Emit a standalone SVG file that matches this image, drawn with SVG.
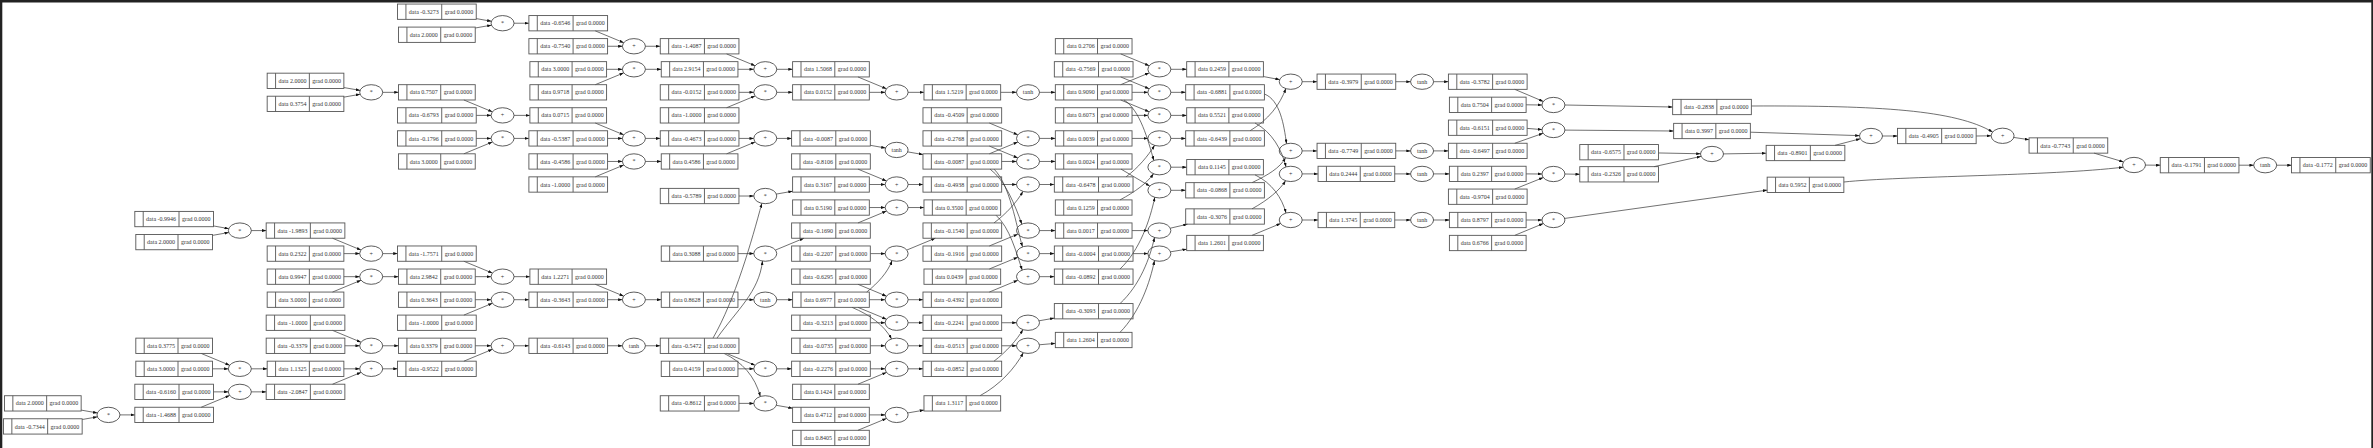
<svg xmlns="http://www.w3.org/2000/svg" xmlns:xlink="http://www.w3.org/1999/xlink" width="2373" height="448" viewBox="0 0 2373 448">
<style>
text{font-family:"Liberation Serif","Times New Roman",serif;font-size:6px;fill:#333;text-anchor:middle}
#edges path{fill:none;stroke:#333;stroke-width:0.7;marker-end:url(#ah)}
</style>
<defs>
<marker id="ah" viewBox="0 0 10 7" refX="10" refY="3.5" markerWidth="4.3" markerHeight="3" markerUnits="userSpaceOnUse" orient="auto"><path d="M0,0L10,3.5L0,7z" fill="#111"/></marker>
<g id="rp"><rect x="-38.35" y="-7.65" width="76.7" height="15.3" fill="none" stroke="#555" stroke-width="0.9"/><path d="M-29.95,-7.65V7.65M3.85,-7.65V7.65" stroke="#555" stroke-width="0.9"/></g>
<g id="rn"><rect x="-39.35" y="-7.65" width="78.7" height="15.3" fill="none" stroke="#555" stroke-width="0.9"/><path d="M-30.95,-7.65V7.65M4.85,-7.65V7.65" stroke="#555" stroke-width="0.9"/></g>
<ellipse id="el" rx="11.5" ry="7.65" fill="none" stroke="#333" stroke-width="0.8"/>
</defs>
<rect x="0" y="0" width="2373" height="448" fill="#fff"/>
<rect x="0" y="0" width="2373" height="2.5" fill="#222"/>
<rect x="0" y="0" width="2.3" height="448" fill="#222"/>
<rect x="2371.3" y="0" width="1.7" height="448" fill="#222"/>
<g id="edges">
<path d="M81.15,410.1L97.36,412.95"/><path d="M82.15,419.5L97.36,416.85"/><path d="M119.98,414.9L134.81,414.9"/>
<path d="M213.51,225.96L228.72,228.63"/><path d="M212.51,235.37L228.72,232.53"/><path d="M251.34,230.58L266.17,230.58"/>
<path d="M201.16,353.43L229.67,365.25"/><path d="M212.51,368.82L228.34,368.82"/><path d="M251.34,368.82L267.17,368.82"/>
<path d="M213.51,391.86L228.34,391.86"/><path d="M201.16,407.25L229.67,395.43"/><path d="M251.34,391.86L266.17,391.86"/>
<path d="M343.87,87.55L360.08,90.39"/><path d="M343.87,97.13L360.08,94.29"/><path d="M382.7,92.34L398.53,92.34"/>
<path d="M332.52,238.23L361.03,250.05"/><path d="M343.87,253.62L359.7,253.62"/><path d="M382.7,253.62L397.53,253.62"/>
<path d="M343.87,276.66L359.7,276.66"/><path d="M332.52,292.05L361.03,280.23"/><path d="M382.7,276.66L398.53,276.66"/>
<path d="M332.52,330.39L361.03,342.21"/><path d="M344.87,345.78L359.7,345.78"/><path d="M382.7,345.78L398.53,345.78"/>
<path d="M343.87,368.82L359.7,368.82"/><path d="M332.52,384.21L361.03,372.39"/><path d="M382.7,368.82L397.53,368.82"/>
<path d="M476.23,18.6L491.44,21.27"/><path d="M475.23,28.01L491.44,25.17"/><path d="M514.06,23.22L528.89,23.22"/>
<path d="M463.88,99.99L492.39,111.81"/><path d="M476.23,115.38L491.06,115.38"/><path d="M514.06,115.38L529.89,115.38"/>
<path d="M476.23,138.42L491.06,138.42"/><path d="M463.88,153.81L492.39,141.99"/><path d="M514.06,138.42L528.89,138.42"/>
<path d="M463.88,261.27L492.39,273.09"/><path d="M475.23,276.66L491.06,276.66"/><path d="M514.06,276.66L529.89,276.66"/>
<path d="M475.23,299.7L491.06,299.7"/><path d="M463.88,315.09L492.39,303.27"/><path d="M514.06,299.7L528.89,299.7"/>
<path d="M475.23,345.78L491.06,345.78"/><path d="M463.88,361.17L492.39,349.35"/><path d="M514.06,345.78L528.89,345.78"/>
<path d="M595.24,30.87L623.75,42.69"/><path d="M607.59,46.26L622.42,46.26"/><path d="M645.42,46.26L660.25,46.26"/>
<path d="M606.59,69.3L622.42,69.3"/><path d="M595.24,84.69L623.75,72.87"/><path d="M645.42,69.3L661.25,69.3"/>
<path d="M595.24,123.03L623.75,134.85"/><path d="M607.59,138.42L622.42,138.42"/><path d="M645.42,138.42L660.25,138.42"/>
<path d="M607.59,161.46L622.42,161.46"/><path d="M595.24,176.85L623.75,165.03"/><path d="M645.42,161.46L661.25,161.46"/>
<path d="M595.24,284.31L623.75,296.13"/><path d="M607.59,299.7L622.42,299.7"/><path d="M645.42,299.7L661.25,299.7"/>
<path d="M607.59,345.78L622.42,345.78"/><path d="M645.42,345.78L660.25,345.78"/>
<path d="M726.6,53.91L755.11,65.73"/><path d="M737.95,69.3L753.78,69.3"/><path d="M776.78,69.3L792.61,69.3"/>
<path d="M738.95,92.34L753.78,92.34"/><path d="M726.6,107.73L755.11,95.91"/><path d="M776.78,92.34L792.61,92.34"/>
<path d="M738.95,138.42L753.78,138.42"/><path d="M726.6,153.81L755.11,141.99"/><path d="M776.78,138.42L791.61,138.42"/>
<path d="M738.95,196.02L753.78,196.02"/><path d="M713,338.1C735,300 752,240 761.8,203.4"/><path d="M776.4,194.07L792.61,191.23"/>
<path d="M737.95,253.62L753.78,253.62"/><path d="M717,338.1C737,310 759,292 762.5,261"/><path d="M775.45,250.05L803.96,238.23"/>
<path d="M737.95,299.7L753.78,299.7"/><path d="M776.78,299.7L792.61,299.7"/>
<path d="M737.95,368.82L753.78,368.82"/><path d="M726.6,353.43L755.11,365.25"/><path d="M776.78,368.82L791.61,368.82"/>
<path d="M738.95,403.38L753.78,403.38"/><path d="M724,353.4C742,362 755,376 760.3,396.5"/><path d="M776.4,405.33L792.61,408.17"/>
<path d="M857.96,76.95L886.47,88.77"/><path d="M869.31,92.34L885.14,92.34"/><path d="M908.14,92.34L923.97,92.34"/>
<path d="M870.31,145.32L885.52,147.99"/><path d="M907.76,151.89L922.97,154.56"/>
<path d="M857.96,169.11L886.47,180.93"/><path d="M869.31,184.5L885.14,184.5"/><path d="M908.14,184.5L922.97,184.5"/>
<path d="M869.31,207.54L885.14,207.54"/><path d="M857.96,222.93L886.47,211.11"/><path d="M908.14,207.54L923.97,207.54"/>
<path d="M870.31,253.62L885.14,253.62"/><path d="M866.7,292.05C878,283 888,272 892,260.6"/><path d="M906.81,250.05L935.32,238.23"/>
<path d="M857.96,284.31L886.47,296.13"/><path d="M869.31,299.7L885.14,299.7"/><path d="M908.14,299.7L922.97,299.7"/>
<path d="M870.31,322.74L885.14,322.74"/><path d="M857.96,307.35L886.47,319.17"/><path d="M908.14,322.74L922.97,322.74"/>
<path d="M870.31,345.78L885.14,345.78"/><path d="M852,307.35C870,315 884,325 891.5,338.9"/><path d="M908.14,345.78L922.97,345.78"/>
<path d="M870.31,368.82L885.14,368.82"/><path d="M857.96,384.21L886.47,372.39"/><path d="M908.14,368.82L922.97,368.82"/>
<path d="M869.31,414.9L885.14,414.9"/><path d="M857.96,430.29L886.47,418.47"/><path d="M907.76,412.95L923.97,410.11"/>
<path d="M1000.67,92.34L1016.5,92.34"/><path d="M1039.5,92.34L1055.33,92.34"/>
<path d="M989.32,123.03L1017.83,134.85"/><path d="M989.32,153.81L1017.83,141.99"/><path d="M1039.5,138.42L1055.33,138.42"/>
<path d="M989.32,146.07L1017.83,157.89"/><path d="M1001.67,161.46L1016.5,161.46"/><path d="M1039.5,161.46L1055.33,161.46"/>
<path d="M1001.67,184.5L1016.5,184.5"/><path d="M994,222.9C1006,214 1017,202 1022.9,191.4"/><path d="M1039.5,184.5L1054.33,184.5"/>
<path d="M989.32,245.97L1017.83,234.15"/><path d="M990,169.1C1005,180 1015,205 1021.8,224.1"/><path d="M1039.5,230.58L1055.33,230.58"/>
<path d="M989.32,269.01L1017.83,257.19"/><path d="M994,169.1C1010,185 1016,225 1022.5,246.8"/><path d="M1039.5,253.62L1054.33,253.62"/>
<path d="M989.32,292.05L1017.83,280.23"/><path d="M996,215.2C1010,228 1016,252 1022.2,270"/><path d="M1039.5,276.66L1054.33,276.66"/>
<path d="M1001.67,322.74L1016.5,322.74"/><path d="M994,361.2C1006,352 1017,340 1022.9,329.6"/><path d="M1039.12,320.79L1054.33,318.12"/>
<path d="M1001.67,345.78L1016.5,345.78"/><path d="M980,395.7C1000,385 1015,368 1023.3,352.7"/><path d="M1039.4,344.78L1055.33,343.4"/>
<path d="M1120.68,53.91L1149.19,65.73"/><path d="M1120.68,84.69L1149.19,72.87"/><path d="M1170.86,69.3L1186.69,69.3"/>
<path d="M1120.68,76.95L1149.19,88.77"/><path d="M1132.03,92.34L1147.86,92.34"/><path d="M1170.86,92.34L1185.69,92.34"/>
<path d="M1132.03,115.38L1147.86,115.38"/><path d="M1120.68,99.99L1149.19,111.81"/><path d="M1170.86,115.38L1186.69,115.38"/>
<path d="M1132.03,138.42L1147.86,138.42"/><path d="M1126,176.85C1138,168 1148,156 1154.6,145.3"/><path d="M1170.86,138.42L1185.69,138.42"/>
<path d="M1120,199.9C1135,192 1147,183 1153.5,173.8"/><path d="M1124,100C1140,110 1148,140 1153.8,160.4"/><path d="M1170.86,167.2L1186.69,167.2"/>
<path d="M1121,169.1L1149.76,186.09"/><path d="M1120,269C1140,250 1150,220 1154.8,197.2"/><path d="M1170.86,190.3L1185.69,190.3"/>
<path d="M1132.03,230.58L1147.86,230.58"/><path d="M1120,303.6C1140,285 1150,258 1154.5,237.5"/><path d="M1170.3,228.2L1187.5,224.2"/>
<path d="M1133.03,253.62L1147.86,253.62"/><path d="M1120,332.35C1140,312 1150,282 1154.5,260.6"/><path d="M1170.5,251.8L1186.69,249.2"/>
<path d="M1263.39,76.54L1279.66,79.61"/><path d="M1250,130.77C1268,120 1280,105 1285.8,88.5"/><path d="M1302.22,81.7L1317.05,81.7"/>
<path d="M1264.39,94C1280,100 1284,125 1286.5,143.7"/><path d="M1252,182.65C1268,175 1280,168 1285.5,157.7"/><path d="M1302.22,150.9L1317.05,150.9"/>
<path d="M1255,123.03C1272,132 1282,150 1286,166.9"/><path d="M1252,208.85C1268,200 1280,190 1285.5,180.7"/><path d="M1302.22,173.9L1318.05,173.9"/>
<path d="M1255,174.85C1272,183 1282,198 1286,213"/><path d="M1252.04,235.35L1280.55,223.56"/><path d="M1302.22,220L1318.05,220"/>
<path d="M1395.75,81.7L1410.58,81.7"/><path d="M1433.58,81.7L1448.41,81.7"/>
<path d="M1395.75,150.9L1410.58,150.9"/><path d="M1433.58,150.9L1448.41,150.9"/>
<path d="M1394.75,173.9L1410.58,173.9"/><path d="M1433.58,173.9L1449.41,173.9"/>
<path d="M1394.75,220L1410.58,220"/><path d="M1433.58,220L1449.41,220"/>
<path d="M1514.76,89.35L1543.27,101.43"/><path d="M1526.11,104.8L1541.94,105"/><path d="M1564.94,105L1672.65,107"/>
<path d="M1527.11,128.4L1541.96,129.6"/><path d="M1514.76,143.25L1543.07,133.3"/><path d="M1564.94,130.1L1673.65,131"/>
<path d="M1526.11,173.9L1541.94,174"/><path d="M1514.76,189.05L1543.27,177.57"/><path d="M1564.94,174L1579.77,174.3"/>
<path d="M1526.11,220L1541.94,220"/><path d="M1514.76,235.35L1543.27,223.57"/><path d="M1564.69,218.43L1767.15,190.15"/>
<path d="M1658.47,152.96L1700.5,153.78"/><path d="M1654.1,166.65L1701.07,156.39"/><path d="M1723.5,153.9L1766.15,153.2"/>
<path d="M1750.35,132.2L1859.51,135.64"/><path d="M1835,145.35L1860.28,138.78"/><path d="M1882.5,136L1897.45,136"/>
<path d="M1976.15,136L1991.1,135.8"/><path d="M1751.35,106C1880,105.5 1955,110 1992.6,132"/><path d="M2013.83,137.45L2029.05,139.7"/>
<path d="M2094.1,153.15L2123.5,161.88"/><path d="M1843.85,182C1900,176 2050,176 2123,167.2"/><path d="M2145.5,165.1L2160.25,165.2"/>
<path d="M2238.95,165.2L2253.7,165.2"/><path d="M2276.7,165.2L2291.55,165.2"/>
</g>
<g id="ops">
<g id="o1" transform="translate(108.48 414.9)"><use href="#el"/><text y="2">*</text></g>
<g id="o2" transform="translate(239.84 230.58)"><use href="#el"/><text y="2">*</text></g>
<g id="o3" transform="translate(239.84 368.82)"><use href="#el"/><text y="2">*</text></g>
<g id="o4" transform="translate(239.84 391.86)"><use href="#el"/><text y="2">+</text></g>
<g id="o5" transform="translate(371.2 92.34)"><use href="#el"/><text y="2">*</text></g>
<g id="o6" transform="translate(371.2 253.62)"><use href="#el"/><text y="2">+</text></g>
<g id="o7" transform="translate(371.2 276.66)"><use href="#el"/><text y="2">*</text></g>
<g id="o8" transform="translate(371.2 345.78)"><use href="#el"/><text y="2">*</text></g>
<g id="o9" transform="translate(371.2 368.82)"><use href="#el"/><text y="2">+</text></g>
<g id="o10" transform="translate(502.56 23.22)"><use href="#el"/><text y="2">*</text></g>
<g id="o11" transform="translate(502.56 115.38)"><use href="#el"/><text y="2">+</text></g>
<g id="o12" transform="translate(502.56 138.42)"><use href="#el"/><text y="2">*</text></g>
<g id="o13" transform="translate(502.56 276.66)"><use href="#el"/><text y="2">+</text></g>
<g id="o14" transform="translate(502.56 299.7)"><use href="#el"/><text y="2">*</text></g>
<g id="o15" transform="translate(502.56 345.78)"><use href="#el"/><text y="2">+</text></g>
<g id="o16" transform="translate(633.92 46.26)"><use href="#el"/><text y="2">+</text></g>
<g id="o17" transform="translate(633.92 69.3)"><use href="#el"/><text y="2">*</text></g>
<g id="o18" transform="translate(633.92 138.42)"><use href="#el"/><text y="2">+</text></g>
<g id="o19" transform="translate(633.92 161.46)"><use href="#el"/><text y="2">*</text></g>
<g id="o20" transform="translate(633.92 299.7)"><use href="#el"/><text y="2">+</text></g>
<g id="o21" transform="translate(633.92 345.78)"><use href="#el"/><text y="2">tanh</text></g>
<g id="o22" transform="translate(765.28 69.3)"><use href="#el"/><text y="2">+</text></g>
<g id="o23" transform="translate(765.28 92.34)"><use href="#el"/><text y="2">*</text></g>
<g id="o24" transform="translate(765.28 138.42)"><use href="#el"/><text y="2">+</text></g>
<g id="o25" transform="translate(765.28 196.02)"><use href="#el"/><text y="2">*</text></g>
<g id="o26" transform="translate(765.28 253.62)"><use href="#el"/><text y="2">*</text></g>
<g id="o27" transform="translate(765.28 299.7)"><use href="#el"/><text y="2">tanh</text></g>
<g id="o28" transform="translate(765.28 368.82)"><use href="#el"/><text y="2">*</text></g>
<g id="o29" transform="translate(765.28 403.38)"><use href="#el"/><text y="2">*</text></g>
<g id="o30" transform="translate(896.64 92.34)"><use href="#el"/><text y="2">+</text></g>
<g id="o31" transform="translate(896.64 149.94)"><use href="#el"/><text y="2">tanh</text></g>
<g id="o32" transform="translate(896.64 184.5)"><use href="#el"/><text y="2">+</text></g>
<g id="o33" transform="translate(896.64 207.54)"><use href="#el"/><text y="2">+</text></g>
<g id="o34" transform="translate(896.64 253.62)"><use href="#el"/><text y="2">*</text></g>
<g id="o35" transform="translate(896.64 299.7)"><use href="#el"/><text y="2">*</text></g>
<g id="o36" transform="translate(896.64 322.74)"><use href="#el"/><text y="2">*</text></g>
<g id="o37" transform="translate(896.64 345.78)"><use href="#el"/><text y="2">*</text></g>
<g id="o38" transform="translate(896.64 368.82)"><use href="#el"/><text y="2">+</text></g>
<g id="o39" transform="translate(896.64 414.9)"><use href="#el"/><text y="2">+</text></g>
<g id="o40" transform="translate(1028 92.34)"><use href="#el"/><text y="2">tanh</text></g>
<g id="o41" transform="translate(1028 138.42)"><use href="#el"/><text y="2">*</text></g>
<g id="o42" transform="translate(1028 161.46)"><use href="#el"/><text y="2">*</text></g>
<g id="o43" transform="translate(1028 184.5)"><use href="#el"/><text y="2">+</text></g>
<g id="o44" transform="translate(1028 230.58)"><use href="#el"/><text y="2">*</text></g>
<g id="o45" transform="translate(1028 253.62)"><use href="#el"/><text y="2">*</text></g>
<g id="o46" transform="translate(1028 276.66)"><use href="#el"/><text y="2">+</text></g>
<g id="o47" transform="translate(1028 322.74)"><use href="#el"/><text y="2">+</text></g>
<g id="o48" transform="translate(1028 345.78)"><use href="#el"/><text y="2">+</text></g>
<g id="o49" transform="translate(1159.36 69.3)"><use href="#el"/><text y="2">*</text></g>
<g id="o50" transform="translate(1159.36 92.34)"><use href="#el"/><text y="2">*</text></g>
<g id="o51" transform="translate(1159.36 115.38)"><use href="#el"/><text y="2">*</text></g>
<g id="o52" transform="translate(1159.36 138.42)"><use href="#el"/><text y="2">+</text></g>
<g id="o53" transform="translate(1159.36 167.2)"><use href="#el"/><text y="2">*</text></g>
<g id="o54" transform="translate(1159.36 190.3)"><use href="#el"/><text y="2">+</text></g>
<g id="o55" transform="translate(1159.36 230.58)"><use href="#el"/><text y="2">+</text></g>
<g id="o56" transform="translate(1159.36 253.62)"><use href="#el"/><text y="2">+</text></g>
<g id="o57" transform="translate(1290.72 81.7)"><use href="#el"/><text y="2">+</text></g>
<g id="o58" transform="translate(1290.72 150.9)"><use href="#el"/><text y="2">+</text></g>
<g id="o59" transform="translate(1290.72 173.9)"><use href="#el"/><text y="2">+</text></g>
<g id="o60" transform="translate(1290.72 220)"><use href="#el"/><text y="2">+</text></g>
<g id="o61" transform="translate(1422.08 81.7)"><use href="#el"/><text y="2">tanh</text></g>
<g id="o62" transform="translate(1422.08 150.9)"><use href="#el"/><text y="2">tanh</text></g>
<g id="o63" transform="translate(1422.08 173.9)"><use href="#el"/><text y="2">tanh</text></g>
<g id="o64" transform="translate(1422.08 220)"><use href="#el"/><text y="2">tanh</text></g>
<g id="o65" transform="translate(1553.44 105)"><use href="#el"/><text y="2">*</text></g>
<g id="o66" transform="translate(1553.44 130)"><use href="#el"/><text y="2">*</text></g>
<g id="o67" transform="translate(1553.44 174)"><use href="#el"/><text y="2">*</text></g>
<g id="o68" transform="translate(1553.44 220)"><use href="#el"/><text y="2">*</text></g>
<g id="o69" transform="translate(1712 154)"><use href="#el"/><text y="2">+</text></g>
<g id="o70" transform="translate(1871 136)"><use href="#el"/><text y="2">+</text></g>
<g id="o71" transform="translate(2002.6 135.8)"><use href="#el"/><text y="2">+</text></g>
<g id="o72" transform="translate(2134 165)"><use href="#el"/><text y="2">+</text></g>
<g id="o73" transform="translate(2265.2 165.2)"><use href="#el"/><text y="2">tanh</text></g>
</g>
<g id="values">
<g id="v1" transform="translate(42.8 403.38)"><use href="#rp"/><text x="-13.05" y="2.1">data 2.0000</text><text x="21.1" y="2.1">grad 0.0000</text></g>
<g id="v2" transform="translate(42.8 426.42)"><use href="#rn"/><text x="-13.05" y="2.1">data -0.7344</text><text x="22.1" y="2.1">grad 0.0000</text></g>
<g id="v3" transform="translate(174.16 219.06)"><use href="#rn"/><text x="-13.05" y="2.1">data -0.9946</text><text x="22.1" y="2.1">grad 0.0000</text></g>
<g id="v4" transform="translate(174.16 242.1)"><use href="#rp"/><text x="-13.05" y="2.1">data 2.0000</text><text x="21.1" y="2.1">grad 0.0000</text></g>
<g id="v5" transform="translate(174.16 345.78)"><use href="#rp"/><text x="-13.05" y="2.1">data 0.3775</text><text x="21.1" y="2.1">grad 0.0000</text></g>
<g id="v6" transform="translate(174.16 368.82)"><use href="#rp"/><text x="-13.05" y="2.1">data 3.0000</text><text x="21.1" y="2.1">grad 0.0000</text></g>
<g id="v7" transform="translate(174.16 391.86)"><use href="#rn"/><text x="-13.05" y="2.1">data -0.6160</text><text x="22.1" y="2.1">grad 0.0000</text></g>
<g id="v8" transform="translate(174.16 414.9)"><use href="#rn"/><text x="-13.05" y="2.1">data -1.4688</text><text x="22.1" y="2.1">grad 0.0000</text></g>
<g id="v9" transform="translate(305.52 80.82)"><use href="#rp"/><text x="-13.05" y="2.1">data 2.0000</text><text x="21.1" y="2.1">grad 0.0000</text></g>
<g id="v10" transform="translate(305.52 103.86)"><use href="#rp"/><text x="-13.05" y="2.1">data 0.3754</text><text x="21.1" y="2.1">grad 0.0000</text></g>
<g id="v11" transform="translate(305.52 230.58)"><use href="#rn"/><text x="-13.05" y="2.1">data -1.9893</text><text x="22.1" y="2.1">grad 0.0000</text></g>
<g id="v12" transform="translate(305.52 253.62)"><use href="#rp"/><text x="-13.05" y="2.1">data 0.2322</text><text x="21.1" y="2.1">grad 0.0000</text></g>
<g id="v13" transform="translate(305.52 276.66)"><use href="#rp"/><text x="-13.05" y="2.1">data 0.9947</text><text x="21.1" y="2.1">grad 0.0000</text></g>
<g id="v14" transform="translate(305.52 299.7)"><use href="#rp"/><text x="-13.05" y="2.1">data 3.0000</text><text x="21.1" y="2.1">grad 0.0000</text></g>
<g id="v15" transform="translate(305.52 322.74)"><use href="#rn"/><text x="-13.05" y="2.1">data -1.0000</text><text x="22.1" y="2.1">grad 0.0000</text></g>
<g id="v16" transform="translate(305.52 345.78)"><use href="#rn"/><text x="-13.05" y="2.1">data -0.3379</text><text x="22.1" y="2.1">grad 0.0000</text></g>
<g id="v17" transform="translate(305.52 368.82)"><use href="#rp"/><text x="-13.05" y="2.1">data 1.1325</text><text x="21.1" y="2.1">grad 0.0000</text></g>
<g id="v18" transform="translate(305.52 391.86)"><use href="#rn"/><text x="-13.05" y="2.1">data -2.0847</text><text x="22.1" y="2.1">grad 0.0000</text></g>
<g id="v19" transform="translate(436.88 11.7)"><use href="#rn"/><text x="-13.05" y="2.1">data -0.3273</text><text x="22.1" y="2.1">grad 0.0000</text></g>
<g id="v20" transform="translate(436.88 34.74)"><use href="#rp"/><text x="-13.05" y="2.1">data 2.0000</text><text x="21.1" y="2.1">grad 0.0000</text></g>
<g id="v21" transform="translate(436.88 92.34)"><use href="#rp"/><text x="-13.05" y="2.1">data 0.7507</text><text x="21.1" y="2.1">grad 0.0000</text></g>
<g id="v22" transform="translate(436.88 115.38)"><use href="#rn"/><text x="-13.05" y="2.1">data -0.6793</text><text x="22.1" y="2.1">grad 0.0000</text></g>
<g id="v23" transform="translate(436.88 138.42)"><use href="#rn"/><text x="-13.05" y="2.1">data -0.1796</text><text x="22.1" y="2.1">grad 0.0000</text></g>
<g id="v24" transform="translate(436.88 161.46)"><use href="#rp"/><text x="-13.05" y="2.1">data 3.0000</text><text x="21.1" y="2.1">grad 0.0000</text></g>
<g id="v25" transform="translate(436.88 253.62)"><use href="#rn"/><text x="-13.05" y="2.1">data -1.7571</text><text x="22.1" y="2.1">grad 0.0000</text></g>
<g id="v26" transform="translate(436.88 276.66)"><use href="#rp"/><text x="-13.05" y="2.1">data 2.9842</text><text x="21.1" y="2.1">grad 0.0000</text></g>
<g id="v27" transform="translate(436.88 299.7)"><use href="#rp"/><text x="-13.05" y="2.1">data 0.3643</text><text x="21.1" y="2.1">grad 0.0000</text></g>
<g id="v28" transform="translate(436.88 322.74)"><use href="#rn"/><text x="-13.05" y="2.1">data -1.0000</text><text x="22.1" y="2.1">grad 0.0000</text></g>
<g id="v29" transform="translate(436.88 345.78)"><use href="#rp"/><text x="-13.05" y="2.1">data 0.3379</text><text x="21.1" y="2.1">grad 0.0000</text></g>
<g id="v30" transform="translate(436.88 368.82)"><use href="#rn"/><text x="-13.05" y="2.1">data -0.9522</text><text x="22.1" y="2.1">grad 0.0000</text></g>
<g id="v31" transform="translate(568.24 23.22)"><use href="#rn"/><text x="-13.05" y="2.1">data -0.6546</text><text x="22.1" y="2.1">grad 0.0000</text></g>
<g id="v32" transform="translate(568.24 46.26)"><use href="#rn"/><text x="-13.05" y="2.1">data -0.7540</text><text x="22.1" y="2.1">grad 0.0000</text></g>
<g id="v33" transform="translate(568.24 69.3)"><use href="#rp"/><text x="-13.05" y="2.1">data 3.0000</text><text x="21.1" y="2.1">grad 0.0000</text></g>
<g id="v34" transform="translate(568.24 92.34)"><use href="#rp"/><text x="-13.05" y="2.1">data 0.9718</text><text x="21.1" y="2.1">grad 0.0000</text></g>
<g id="v35" transform="translate(568.24 115.38)"><use href="#rp"/><text x="-13.05" y="2.1">data 0.0715</text><text x="21.1" y="2.1">grad 0.0000</text></g>
<g id="v36" transform="translate(568.24 138.42)"><use href="#rn"/><text x="-13.05" y="2.1">data -0.5387</text><text x="22.1" y="2.1">grad 0.0000</text></g>
<g id="v37" transform="translate(568.24 161.46)"><use href="#rn"/><text x="-13.05" y="2.1">data -0.4586</text><text x="22.1" y="2.1">grad 0.0000</text></g>
<g id="v38" transform="translate(568.24 184.5)"><use href="#rn"/><text x="-13.05" y="2.1">data -1.0000</text><text x="22.1" y="2.1">grad 0.0000</text></g>
<g id="v39" transform="translate(568.24 276.66)"><use href="#rp"/><text x="-13.05" y="2.1">data 1.2271</text><text x="21.1" y="2.1">grad 0.0000</text></g>
<g id="v40" transform="translate(568.24 299.7)"><use href="#rn"/><text x="-13.05" y="2.1">data -0.3643</text><text x="22.1" y="2.1">grad 0.0000</text></g>
<g id="v41" transform="translate(568.24 345.78)"><use href="#rn"/><text x="-13.05" y="2.1">data -0.6143</text><text x="22.1" y="2.1">grad 0.0000</text></g>
<g id="v42" transform="translate(699.6 46.26)"><use href="#rn"/><text x="-13.05" y="2.1">data -1.4087</text><text x="22.1" y="2.1">grad 0.0000</text></g>
<g id="v43" transform="translate(699.6 69.3)"><use href="#rp"/><text x="-13.05" y="2.1">data 2.9154</text><text x="21.1" y="2.1">grad 0.0000</text></g>
<g id="v44" transform="translate(699.6 92.34)"><use href="#rn"/><text x="-13.05" y="2.1">data -0.0152</text><text x="22.1" y="2.1">grad 0.0000</text></g>
<g id="v45" transform="translate(699.6 115.38)"><use href="#rn"/><text x="-13.05" y="2.1">data -1.0000</text><text x="22.1" y="2.1">grad 0.0000</text></g>
<g id="v46" transform="translate(699.6 138.42)"><use href="#rn"/><text x="-13.05" y="2.1">data -0.4673</text><text x="22.1" y="2.1">grad 0.0000</text></g>
<g id="v47" transform="translate(699.6 161.46)"><use href="#rp"/><text x="-13.05" y="2.1">data 0.4586</text><text x="21.1" y="2.1">grad 0.0000</text></g>
<g id="v48" transform="translate(699.6 196.02)"><use href="#rn"/><text x="-13.05" y="2.1">data -0.5789</text><text x="22.1" y="2.1">grad 0.0000</text></g>
<g id="v49" transform="translate(699.6 253.62)"><use href="#rp"/><text x="-13.05" y="2.1">data 0.3088</text><text x="21.1" y="2.1">grad 0.0000</text></g>
<g id="v50" transform="translate(699.6 299.7)"><use href="#rp"/><text x="-13.05" y="2.1">data 0.8628</text><text x="21.1" y="2.1">grad 0.0000</text></g>
<g id="v51" transform="translate(699.6 345.78)"><use href="#rn"/><text x="-13.05" y="2.1">data -0.5472</text><text x="22.1" y="2.1">grad 0.0000</text></g>
<g id="v52" transform="translate(699.6 368.82)"><use href="#rp"/><text x="-13.05" y="2.1">data 0.4159</text><text x="21.1" y="2.1">grad 0.0000</text></g>
<g id="v53" transform="translate(699.6 403.38)"><use href="#rn"/><text x="-13.05" y="2.1">data -0.8612</text><text x="22.1" y="2.1">grad 0.0000</text></g>
<g id="v54" transform="translate(830.96 69.3)"><use href="#rp"/><text x="-13.05" y="2.1">data 1.5068</text><text x="21.1" y="2.1">grad 0.0000</text></g>
<g id="v55" transform="translate(830.96 92.34)"><use href="#rp"/><text x="-13.05" y="2.1">data 0.0152</text><text x="21.1" y="2.1">grad 0.0000</text></g>
<g id="v56" transform="translate(830.96 138.42)"><use href="#rn"/><text x="-13.05" y="2.1">data -0.0087</text><text x="22.1" y="2.1">grad 0.0000</text></g>
<g id="v57" transform="translate(830.96 161.46)"><use href="#rn"/><text x="-13.05" y="2.1">data -0.8106</text><text x="22.1" y="2.1">grad 0.0000</text></g>
<g id="v58" transform="translate(830.96 184.5)"><use href="#rp"/><text x="-13.05" y="2.1">data 0.3167</text><text x="21.1" y="2.1">grad 0.0000</text></g>
<g id="v59" transform="translate(830.96 207.54)"><use href="#rp"/><text x="-13.05" y="2.1">data 0.5190</text><text x="21.1" y="2.1">grad 0.0000</text></g>
<g id="v60" transform="translate(830.96 230.58)"><use href="#rn"/><text x="-13.05" y="2.1">data -0.1690</text><text x="22.1" y="2.1">grad 0.0000</text></g>
<g id="v61" transform="translate(830.96 253.62)"><use href="#rn"/><text x="-13.05" y="2.1">data -0.2207</text><text x="22.1" y="2.1">grad 0.0000</text></g>
<g id="v62" transform="translate(830.96 276.66)"><use href="#rn"/><text x="-13.05" y="2.1">data -0.6295</text><text x="22.1" y="2.1">grad 0.0000</text></g>
<g id="v63" transform="translate(830.96 299.7)"><use href="#rp"/><text x="-13.05" y="2.1">data 0.6977</text><text x="21.1" y="2.1">grad 0.0000</text></g>
<g id="v64" transform="translate(830.96 322.74)"><use href="#rn"/><text x="-13.05" y="2.1">data -0.3213</text><text x="22.1" y="2.1">grad 0.0000</text></g>
<g id="v65" transform="translate(830.96 345.78)"><use href="#rn"/><text x="-13.05" y="2.1">data -0.0735</text><text x="22.1" y="2.1">grad 0.0000</text></g>
<g id="v66" transform="translate(830.96 368.82)"><use href="#rn"/><text x="-13.05" y="2.1">data -0.2276</text><text x="22.1" y="2.1">grad 0.0000</text></g>
<g id="v67" transform="translate(830.96 391.86)"><use href="#rp"/><text x="-13.05" y="2.1">data 0.1424</text><text x="21.1" y="2.1">grad 0.0000</text></g>
<g id="v68" transform="translate(830.96 414.9)"><use href="#rp"/><text x="-13.05" y="2.1">data 0.4712</text><text x="21.1" y="2.1">grad 0.0000</text></g>
<g id="v69" transform="translate(830.96 437.94)"><use href="#rp"/><text x="-13.05" y="2.1">data 0.8405</text><text x="21.1" y="2.1">grad 0.0000</text></g>
<g id="v70" transform="translate(962.32 92.34)"><use href="#rp"/><text x="-13.05" y="2.1">data 1.5219</text><text x="21.1" y="2.1">grad 0.0000</text></g>
<g id="v71" transform="translate(962.32 115.38)"><use href="#rn"/><text x="-13.05" y="2.1">data -0.4509</text><text x="22.1" y="2.1">grad 0.0000</text></g>
<g id="v72" transform="translate(962.32 138.42)"><use href="#rn"/><text x="-13.05" y="2.1">data -0.2768</text><text x="22.1" y="2.1">grad 0.0000</text></g>
<g id="v73" transform="translate(962.32 161.46)"><use href="#rn"/><text x="-13.05" y="2.1">data -0.0087</text><text x="22.1" y="2.1">grad 0.0000</text></g>
<g id="v74" transform="translate(962.32 184.5)"><use href="#rn"/><text x="-13.05" y="2.1">data -0.4938</text><text x="22.1" y="2.1">grad 0.0000</text></g>
<g id="v75" transform="translate(962.32 207.54)"><use href="#rp"/><text x="-13.05" y="2.1">data 0.3500</text><text x="21.1" y="2.1">grad 0.0000</text></g>
<g id="v76" transform="translate(962.32 230.58)"><use href="#rn"/><text x="-13.05" y="2.1">data -0.1540</text><text x="22.1" y="2.1">grad 0.0000</text></g>
<g id="v77" transform="translate(962.32 253.62)"><use href="#rn"/><text x="-13.05" y="2.1">data -0.1916</text><text x="22.1" y="2.1">grad 0.0000</text></g>
<g id="v78" transform="translate(962.32 276.66)"><use href="#rp"/><text x="-13.05" y="2.1">data 0.0439</text><text x="21.1" y="2.1">grad 0.0000</text></g>
<g id="v79" transform="translate(962.32 299.7)"><use href="#rn"/><text x="-13.05" y="2.1">data -0.4392</text><text x="22.1" y="2.1">grad 0.0000</text></g>
<g id="v80" transform="translate(962.32 322.74)"><use href="#rn"/><text x="-13.05" y="2.1">data -0.2241</text><text x="22.1" y="2.1">grad 0.0000</text></g>
<g id="v81" transform="translate(962.32 345.78)"><use href="#rn"/><text x="-13.05" y="2.1">data -0.0513</text><text x="22.1" y="2.1">grad 0.0000</text></g>
<g id="v82" transform="translate(962.32 368.82)"><use href="#rn"/><text x="-13.05" y="2.1">data -0.0852</text><text x="22.1" y="2.1">grad 0.0000</text></g>
<g id="v83" transform="translate(962.32 403.38)"><use href="#rp"/><text x="-13.05" y="2.1">data 1.3117</text><text x="21.1" y="2.1">grad 0.0000</text></g>
<g id="v84" transform="translate(1093.68 46.26)"><use href="#rp"/><text x="-13.05" y="2.1">data 0.2706</text><text x="21.1" y="2.1">grad 0.0000</text></g>
<g id="v85" transform="translate(1093.68 69.3)"><use href="#rn"/><text x="-13.05" y="2.1">data -0.7569</text><text x="22.1" y="2.1">grad 0.0000</text></g>
<g id="v86" transform="translate(1093.68 92.34)"><use href="#rp"/><text x="-13.05" y="2.1">data 0.9090</text><text x="21.1" y="2.1">grad 0.0000</text></g>
<g id="v87" transform="translate(1093.68 115.38)"><use href="#rp"/><text x="-13.05" y="2.1">data 0.6073</text><text x="21.1" y="2.1">grad 0.0000</text></g>
<g id="v88" transform="translate(1093.68 138.42)"><use href="#rp"/><text x="-13.05" y="2.1">data 0.0039</text><text x="21.1" y="2.1">grad 0.0000</text></g>
<g id="v89" transform="translate(1093.68 161.46)"><use href="#rp"/><text x="-13.05" y="2.1">data 0.0024</text><text x="21.1" y="2.1">grad 0.0000</text></g>
<g id="v90" transform="translate(1093.68 184.5)"><use href="#rn"/><text x="-13.05" y="2.1">data -0.6478</text><text x="22.1" y="2.1">grad 0.0000</text></g>
<g id="v91" transform="translate(1093.68 207.54)"><use href="#rp"/><text x="-13.05" y="2.1">data 0.1259</text><text x="21.1" y="2.1">grad 0.0000</text></g>
<g id="v92" transform="translate(1093.68 230.58)"><use href="#rp"/><text x="-13.05" y="2.1">data 0.0017</text><text x="21.1" y="2.1">grad 0.0000</text></g>
<g id="v93" transform="translate(1093.68 253.62)"><use href="#rn"/><text x="-13.05" y="2.1">data -0.0004</text><text x="22.1" y="2.1">grad 0.0000</text></g>
<g id="v94" transform="translate(1093.68 276.66)"><use href="#rn"/><text x="-13.05" y="2.1">data -0.0892</text><text x="22.1" y="2.1">grad 0.0000</text></g>
<g id="v95" transform="translate(1093.68 311.22)"><use href="#rn"/><text x="-13.05" y="2.1">data -0.3093</text><text x="22.1" y="2.1">grad 0.0000</text></g>
<g id="v96" transform="translate(1093.68 340)"><use href="#rp"/><text x="-13.05" y="2.1">data 1.2604</text><text x="21.1" y="2.1">grad 0.0000</text></g>
<g id="v97" transform="translate(1225.04 69.3)"><use href="#rp"/><text x="-13.05" y="2.1">data 0.2459</text><text x="21.1" y="2.1">grad 0.0000</text></g>
<g id="v98" transform="translate(1225.04 92.34)"><use href="#rn"/><text x="-13.05" y="2.1">data -0.6881</text><text x="22.1" y="2.1">grad 0.0000</text></g>
<g id="v99" transform="translate(1225.04 115.38)"><use href="#rp"/><text x="-13.05" y="2.1">data 0.5521</text><text x="21.1" y="2.1">grad 0.0000</text></g>
<g id="v100" transform="translate(1225.04 138.42)"><use href="#rn"/><text x="-13.05" y="2.1">data -0.6439</text><text x="22.1" y="2.1">grad 0.0000</text></g>
<g id="v101" transform="translate(1225.04 167.2)"><use href="#rp"/><text x="-13.05" y="2.1">data 0.1145</text><text x="21.1" y="2.1">grad 0.0000</text></g>
<g id="v102" transform="translate(1225.04 190.3)"><use href="#rn"/><text x="-13.05" y="2.1">data -0.0868</text><text x="22.1" y="2.1">grad 0.0000</text></g>
<g id="v103" transform="translate(1225.04 216.5)"><use href="#rn"/><text x="-13.05" y="2.1">data -0.3076</text><text x="22.1" y="2.1">grad 0.0000</text></g>
<g id="v104" transform="translate(1225.04 243)"><use href="#rp"/><text x="-13.05" y="2.1">data 1.2601</text><text x="21.1" y="2.1">grad 0.0000</text></g>
<g id="v105" transform="translate(1356.4 81.7)"><use href="#rn"/><text x="-13.05" y="2.1">data -0.3979</text><text x="22.1" y="2.1">grad 0.0000</text></g>
<g id="v106" transform="translate(1356.4 150.9)"><use href="#rn"/><text x="-13.05" y="2.1">data -0.7749</text><text x="22.1" y="2.1">grad 0.0000</text></g>
<g id="v107" transform="translate(1356.4 173.9)"><use href="#rp"/><text x="-13.05" y="2.1">data 0.2444</text><text x="21.1" y="2.1">grad 0.0000</text></g>
<g id="v108" transform="translate(1356.4 220)"><use href="#rp"/><text x="-13.05" y="2.1">data 1.3745</text><text x="21.1" y="2.1">grad 0.0000</text></g>
<g id="v109" transform="translate(1487.76 81.7)"><use href="#rn"/><text x="-13.05" y="2.1">data -0.3782</text><text x="22.1" y="2.1">grad 0.0000</text></g>
<g id="v110" transform="translate(1487.76 104.8)"><use href="#rp"/><text x="-13.05" y="2.1">data 0.7504</text><text x="21.1" y="2.1">grad 0.0000</text></g>
<g id="v111" transform="translate(1487.76 127.7)"><use href="#rn"/><text x="-13.05" y="2.1">data -0.6151</text><text x="22.1" y="2.1">grad 0.0000</text></g>
<g id="v112" transform="translate(1487.76 150.9)"><use href="#rn"/><text x="-13.05" y="2.1">data -0.6497</text><text x="22.1" y="2.1">grad 0.0000</text></g>
<g id="v113" transform="translate(1487.76 173.9)"><use href="#rp"/><text x="-13.05" y="2.1">data 0.2397</text><text x="21.1" y="2.1">grad 0.0000</text></g>
<g id="v114" transform="translate(1487.76 196.7)"><use href="#rn"/><text x="-13.05" y="2.1">data -0.9704</text><text x="22.1" y="2.1">grad 0.0000</text></g>
<g id="v115" transform="translate(1487.76 220)"><use href="#rp"/><text x="-13.05" y="2.1">data 0.8797</text><text x="21.1" y="2.1">grad 0.0000</text></g>
<g id="v116" transform="translate(1487.76 243)"><use href="#rp"/><text x="-13.05" y="2.1">data 0.6766</text><text x="21.1" y="2.1">grad 0.0000</text></g>
<g id="v117" transform="translate(1619.12 152.2)"><use href="#rn"/><text x="-13.05" y="2.1">data -0.6575</text><text x="22.1" y="2.1">grad 0.0000</text></g>
<g id="v118" transform="translate(1619.12 174.3)"><use href="#rn"/><text x="-13.05" y="2.1">data -0.2326</text><text x="22.1" y="2.1">grad 0.0000</text></g>
<g id="v119" transform="translate(1712 107)"><use href="#rn"/><text x="-13.05" y="2.1">data -0.2838</text><text x="22.1" y="2.1">grad 0.0000</text></g>
<g id="v120" transform="translate(1712 131)"><use href="#rp"/><text x="-13.05" y="2.1">data 0.3997</text><text x="21.1" y="2.1">grad 0.0000</text></g>
<g id="v121" transform="translate(1805.5 153)"><use href="#rn"/><text x="-13.05" y="2.1">data -0.8901</text><text x="22.1" y="2.1">grad 0.0000</text></g>
<g id="v122" transform="translate(1805.5 184.8)"><use href="#rp"/><text x="-13.05" y="2.1">data 0.5952</text><text x="21.1" y="2.1">grad 0.0000</text></g>
<g id="v123" transform="translate(1936.8 136)"><use href="#rn"/><text x="-13.05" y="2.1">data -0.4905</text><text x="22.1" y="2.1">grad 0.0000</text></g>
<g id="v124" transform="translate(2068.4 145.5)"><use href="#rn"/><text x="-13.05" y="2.1">data -0.7743</text><text x="22.1" y="2.1">grad 0.0000</text></g>
<g id="v125" transform="translate(2199.6 165.2)"><use href="#rn"/><text x="-13.05" y="2.1">data -0.1791</text><text x="22.1" y="2.1">grad 0.0000</text></g>
<g id="v126" transform="translate(2330.9 165.2)"><use href="#rn"/><text x="-13.05" y="2.1">data -0.1772</text><text x="22.1" y="2.1">grad 0.0000</text></g>
</g>
</svg>
